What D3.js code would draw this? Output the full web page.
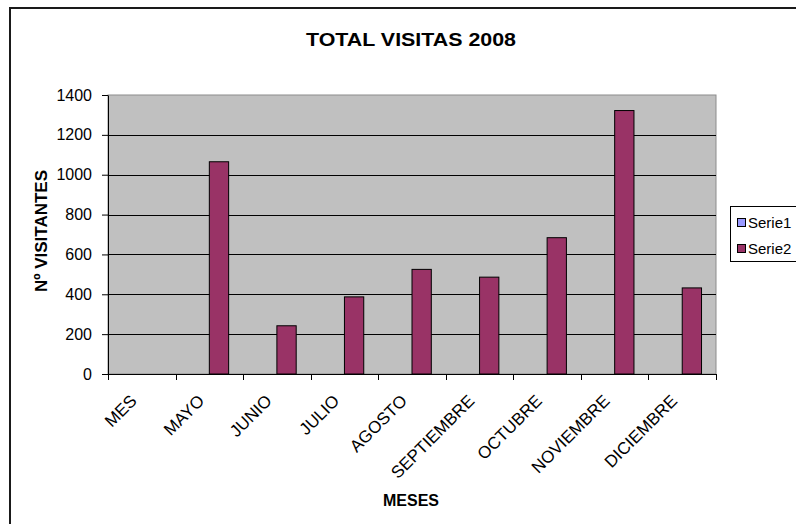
<!DOCTYPE html>
<html>
<head>
<meta charset="utf-8">
<script src="https://cdn.jsdelivr.net/npm/d3@7"></script>
<style>
  body { margin: 0; background: #fff; }
  text { font-family: "Liberation Sans", Arial, sans-serif; fill: #000; }
</style>
</head>
<body>
<svg width="796" height="524"></svg>
<script>
// months as they appear on the category axis
var meses = ["MES", "MAYO", "JUNIO", "JULIO", "AGOSTO", "SEPTIEMBRE", "OCTUBRE", "NOVIEMBRE", "DICIEMBRE"];
var series = ["Serie1", "Serie2"];
// Serie1 has no values in the sheet
var serie1 = [null, null, null, null, null, null, null, null, null];
var serie2 = [null, 1065, 242, 387, 525, 486, 684, 1322, 432];
var yTicks = [0, 200, 400, 600, 800, 1000, 1200, 1400];

var clist = { Serie1: "#9999FF", Serie2: "#993366" };

var svg = d3.select("svg");
var plot = { left: 108, right: 716, top: 95, bottom: 374 };

// outer chart frame (runs off the right and bottom)
svg.append("rect")
  .attr("x", 10).attr("y", 8)
  .attr("width", 820).attr("height", 540)
  .style("fill", "#fff").style("stroke", "#1a1a1a").style("stroke-width", 2);

svg.append("text")
  .attr("x", 411).attr("y", 46)
  .attr("text-anchor", "middle")
  .attr("textLength", 210).attr("lengthAdjust", "spacingAndGlyphs")
  .style("font-size", "19px").style("font-weight", "bold")
  .text("TOTAL VISITAS 2008");

var x = d3.scaleBand().domain(meses).range([plot.left, plot.right]).paddingInner(0).paddingOuter(0);
var xs = d3.scaleBand().domain(series).range([0, x.bandwidth()]).paddingInner(0).paddingOuter(0.75);
var y = d3.scaleLinear().domain([0, 1400]).range([plot.bottom, plot.top]);

// plot background
svg.append("rect")
  .attr("x", plot.left).attr("y", plot.top)
  .attr("width", plot.right - plot.left).attr("height", plot.bottom - plot.top)
  .style("fill", "#C0C0C0").style("stroke", "#8c8c8c").style("stroke-width", 1);

// gridlines
svg.append("g").selectAll("line").data(yTicks.slice(1, -1))
  .enter().append("line")
  .attr("x1", plot.left).attr("x2", plot.right)
  .attr("y1", function(d){ return Math.round(y(d)) + 0.5; })
  .attr("y2", function(d){ return Math.round(y(d)) + 0.5; })
  .style("stroke", "#000").style("stroke-width", 1);

// bars
var rows = meses.map(function(m, i){ return { mes: m, Serie1: serie1[i], Serie2: serie2[i] }; });
var groups = svg.append("g").selectAll("g").data(rows)
  .enter().append("g")
  .attr("transform", function(d){ return "translate(" + x(d.mes) + ",0)"; });

groups.selectAll("rect")
  .data(function(d){ return series.map(function(s){ return { s: s, v: d[s] }; }).filter(function(e){ return e.v != null; }); })
  .enter().append("rect")
  .attr("x", function(d){ return xs(d.s); })
  .attr("y", function(d){ return y(d.v); })
  .attr("width", xs.bandwidth())
  .attr("height", function(d){ return y(0) - y(d.v); })
  .style("fill", function(d){ return clist[d.s]; })
  .style("stroke", "#000").style("stroke-width", 1);

// y axis
var yAxis = d3.axisLeft(y).tickValues(yTicks).tickFormat(d3.format("d"))
  .tickSize(6).tickPadding(10).tickSizeOuter(0);
var gy = svg.append("g").attr("transform", "translate(" + plot.left + ",0)").call(yAxis);
gy.select(".domain").style("stroke", "#000");
gy.selectAll("line").style("stroke", "#000");
gy.selectAll("text").style("font-size", "16px").style("font-family", "'Liberation Sans', Arial, sans-serif");

// x axis: ticks on category boundaries
var bounds = meses.map(function(m){ return x(m); }).concat([plot.right]);
svg.append("line")
  .attr("x1", plot.left).attr("x2", plot.right)
  .attr("y1", plot.bottom + 0.5).attr("y2", plot.bottom + 0.5)
  .style("stroke", "#000");
svg.append("g").selectAll("line").data(bounds)
  .enter().append("line")
  .attr("x1", function(d){ return Math.round(d) + 0.5; })
  .attr("x2", function(d){ return Math.round(d) + 0.5; })
  .attr("y1", plot.bottom).attr("y2", plot.bottom + 6)
  .style("stroke", "#000");

svg.append("g").selectAll("text").data(meses)
  .enter().append("text")
  .attr("text-anchor", "end")
  .attr("transform", function(d){
    var cx = x(d) + x.bandwidth() / 2 - 4;
    return "translate(" + cx + ",402) rotate(-45)";
  })
  .style("font-size", "17px")
  .text(function(d){ return d; });

// axis titles
svg.append("text")
  .attr("transform", "translate(47,231) rotate(-90)")
  .attr("text-anchor", "middle")
  .style("font-size", "17px").style("font-weight", "bold")
  .text("Nº VISITANTES");

svg.append("text")
  .attr("x", 411).attr("y", 506)
  .attr("text-anchor", "middle")
  .style("font-size", "16px").style("font-weight", "bold")
  .text("MESES");

// legend
var legend = svg.append("g");
legend.append("rect")
  .attr("x", 730.5).attr("y", 206.5)
  .attr("width", 100).attr("height", 55)
  .style("fill", "#fff").style("stroke", "#000");
var items = legend.selectAll("g").data(series)
  .enter().append("g")
  .attr("transform", function(d, i){ return "translate(737," + (218 + i * 26) + ")"; });
items.append("rect")
  .attr("x", 0.5).attr("y", 0.5).attr("width", 8).attr("height", 8)
  .style("fill", function(d){ return clist[d]; })
  .style("stroke", "#000");
items.append("text")
  .attr("x", 11).attr("y", 9.5)
  .style("font-size", "15px")
  .text(function(d){ return d; });
</script>
</body>
</html>
